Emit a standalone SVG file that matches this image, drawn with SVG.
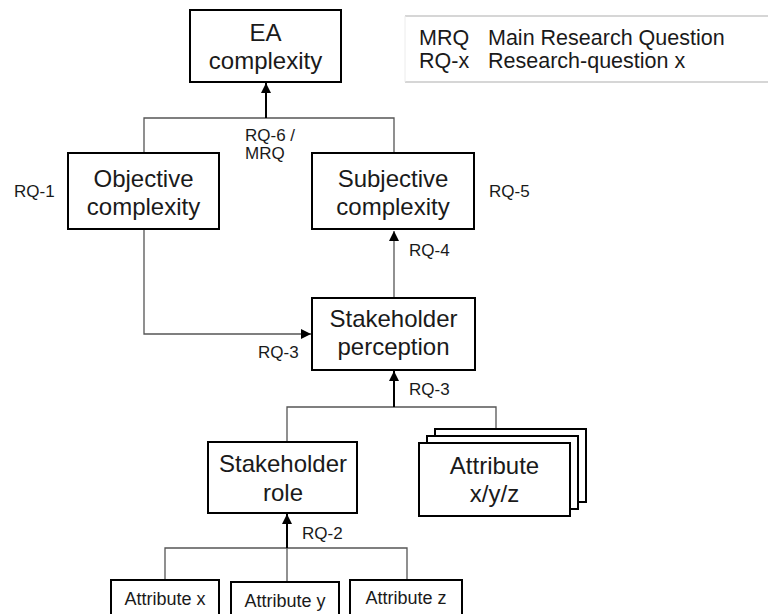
<svg xmlns="http://www.w3.org/2000/svg" width="768" height="614" viewBox="0 0 768 614">
  <defs>
    <marker id="arrow" viewBox="0 0 10 10" refX="10" refY="5" markerWidth="10" markerHeight="11" markerUnits="userSpaceOnUse" orient="auto">
      <path d="M0,0 L10,5 L0,10 Z" fill="#000"/>
    </marker>
    <style>
      .box { fill: #fff; stroke: #000; stroke-width: 2; }
      .big { font-family: "Liberation Sans", Arial, sans-serif; font-size: 24px; fill: #1a1a1a; text-anchor: middle; }
      .small { font-family: "Liberation Sans", Arial, sans-serif; font-size: 18px; fill: #1a1a1a; text-anchor: middle; }
      .lbl { font-family: "Liberation Sans", Arial, sans-serif; font-size: 17px; fill: #1a1a1a; }
      .legend { font-family: "Liberation Sans", Arial, sans-serif; font-size: 21.5px; fill: #1a1a1a; }
      .link { fill: none; stroke: #555; stroke-width: 1.3; }
      .shaft { fill: none; stroke: #000; stroke-width: 2; }
    </style>
  </defs>

  <rect width="768" height="614" fill="#fff"/>

  <!-- legend table -->
  <g id="legend">
    <line x1="405" y1="16" x2="768" y2="16" stroke="#c8c8c8" stroke-width="1.5"/>
    <line x1="405" y1="82" x2="768" y2="82" stroke="#c8c8c8" stroke-width="1.5"/>
    <line x1="405" y1="16" x2="405" y2="82" stroke="#ececec" stroke-width="1"/>
    <text class="legend" x="419" y="45">MRQ</text>
    <text class="legend" x="488" y="45">Main Research Question</text>
    <text class="legend" x="419" y="68">RQ-x</text>
    <text class="legend" x="488" y="68">Research-question x</text>
  </g>

  <!-- connectors -->
  <g id="connectors">
    <!-- objective + subjective to EA complexity -->
    <polyline class="link" points="144,153 144,118 394,118 394,153"/>
    <line class="shaft" x1="266" y1="118" x2="266" y2="83" marker-end="url(#arrow)"/>
    <!-- objective complexity to stakeholder perception -->
    <polyline class="link" points="144,230 144,334 311,334" marker-end="url(#arrow)"/>
    <!-- stakeholder perception to subjective complexity -->
    <line class="link" x1="394" y1="298" x2="394" y2="231" marker-end="url(#arrow)"/>
    <!-- role + attributes to stakeholder perception -->
    <polyline class="link" points="287,442 287,407 496,407 496,429"/>
    <line class="shaft" x1="394" y1="407" x2="394" y2="371" marker-end="url(#arrow)"/>
    <!-- attribute x/y/z to stakeholder role -->
    <polyline class="link" points="165,580 165,548 407,548 407,580"/>
    <line class="link" x1="287" y1="582" x2="287" y2="548"/>
    <line class="shaft" x1="287" y1="548" x2="287" y2="514" marker-end="url(#arrow)"/>
  </g>

  <!-- connector labels -->
  <g id="labels">
    <text class="lbl" x="245" y="141">RQ-6 /</text>
    <text class="lbl" x="245" y="159">MRQ</text>
    <text class="lbl" x="14" y="197">RQ-1</text>
    <text class="lbl" x="489" y="197">RQ-5</text>
    <text class="lbl" x="409" y="256">RQ-4</text>
    <text class="lbl" x="258" y="358">RQ-3</text>
    <text class="lbl" x="409" y="395">RQ-3</text>
    <text class="lbl" x="302" y="539">RQ-2</text>
  </g>

  <g id="ea-complexity">
    <rect class="box" x="190" y="10" width="151" height="72"/>
    <text class="big" x="265.5" y="41">EA</text>
    <text class="big" x="265.5" y="69">complexity</text>
  </g>

  <g id="objective-complexity">
    <rect class="box" x="68" y="153" width="151" height="76"/>
    <text class="big" x="143.5" y="187">Objective</text>
    <text class="big" x="143.5" y="215">complexity</text>
  </g>

  <g id="subjective-complexity">
    <rect class="box" x="312" y="153" width="162" height="76"/>
    <text class="big" x="393" y="187">Subjective</text>
    <text class="big" x="393" y="215">complexity</text>
  </g>

  <g id="stakeholder-perception">
    <rect class="box" x="312" y="298" width="163" height="72"/>
    <text class="big" x="393.5" y="327">Stakeholder</text>
    <text class="big" x="393.5" y="355">perception</text>
  </g>

  <g id="stakeholder-role">
    <rect class="box" x="208" y="442" width="149" height="71"/>
    <text class="big" x="283" y="472">Stakeholder</text>
    <text class="big" x="283" y="501">role</text>
  </g>

  <g id="attribute-xyz">
    <rect class="box" x="435" y="429" width="151" height="73"/>
    <rect class="box" x="427" y="436" width="151" height="73"/>
    <rect class="box" x="419" y="443" width="151" height="73"/>
    <text class="big" x="494.5" y="474">Attribute</text>
    <text class="big" x="494.5" y="502">x/y/z</text>
  </g>

  <g id="attribute-x">
    <rect class="box" x="111" y="580" width="108" height="50"/>
    <text class="small" x="165" y="605">Attribute x</text>
  </g>

  <g id="attribute-y">
    <rect class="box" x="231" y="582" width="108" height="50"/>
    <text class="small" x="285" y="607">Attribute y</text>
  </g>

  <g id="attribute-z">
    <rect class="box" x="350" y="580" width="112" height="50"/>
    <text class="small" x="406" y="604">Attribute z</text>
  </g>
</svg>
